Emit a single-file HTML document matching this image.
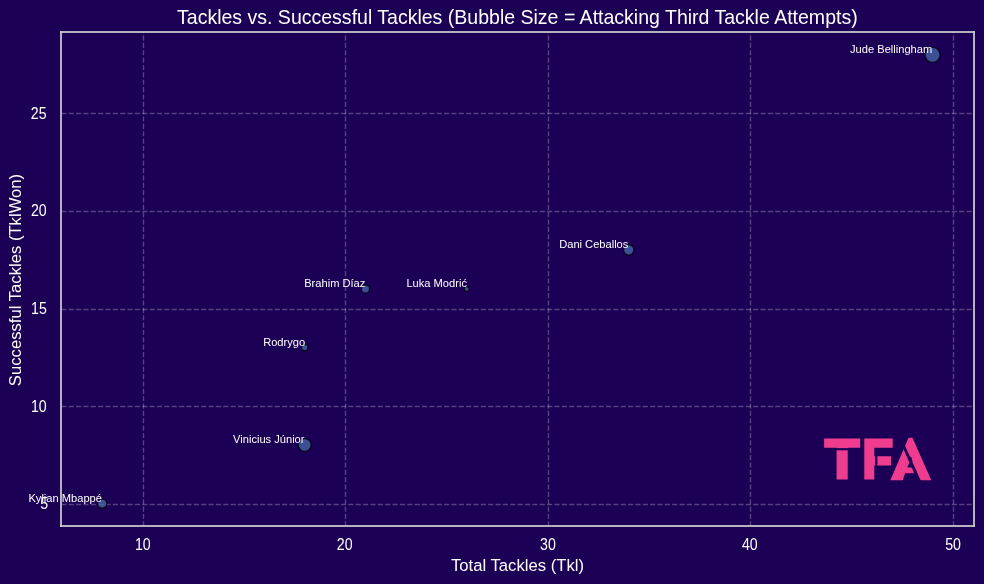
<!DOCTYPE html>
<html><head><meta charset="utf-8"><title>Tackles vs. Successful Tackles</title>
<style>html,body{margin:0;padding:0;background:#1b0055;width:984px;height:584px;overflow:hidden}svg{display:block;will-change:transform}</style>
</head><body>
<svg width="984" height="584" viewBox="0 0 984 584"><rect x="0" y="0" width="984" height="584" fill="#1b0055"/>
<g stroke="rgba(255,255,255,0.26)" stroke-width="1.39" stroke-dasharray="5.14 2.22" fill="none"><line x1="143.5" y1="526.4" x2="143.5" y2="32.0"/><line x1="345.5" y1="526.4" x2="345.5" y2="32.0"/><line x1="548.5" y1="526.4" x2="548.5" y2="32.0"/><line x1="750.5" y1="526.4" x2="750.5" y2="32.0"/><line x1="953.5" y1="526.4" x2="953.5" y2="32.0"/><line x1="61.3" y1="113.5" x2="974.0" y2="113.5"/><line x1="61.3" y1="211.5" x2="974.0" y2="211.5"/><line x1="61.3" y1="309.5" x2="974.0" y2="309.5"/><line x1="61.3" y1="406.5" x2="974.0" y2="406.5"/><line x1="61.3" y1="504.5" x2="974.0" y2="504.5"/></g>
<g fill="#4c72b0" fill-opacity="0.7" stroke="#000" stroke-opacity="0.7" stroke-width="1.39"><circle cx="932.50" cy="54.87" r="7.55"/><circle cx="628.75" cy="249.97" r="5.15"/><circle cx="365.50" cy="288.99" r="4.05"/><circle cx="466.75" cy="288.99" r="2.41"/><circle cx="304.75" cy="347.52" r="3.21"/><circle cx="304.75" cy="445.07" r="6.40"/><circle cx="102.25" cy="503.60" r="4.55"/></g>
<g fill="#cccccc"><rect x="60.13" y="31.13" width="1.74" height="495.74"/><rect x="973.13" y="31.13" width="1.74" height="495.74"/><rect x="60.13" y="31.13" width="914.74" height="1.74"/><rect x="60.13" y="525.13" width="914.74" height="1.74"/></g>
<g font-family="'Liberation Sans', sans-serif" font-size="15.75" fill="#ffffff"><text transform="translate(142.86,549.60) scale(0.9,1)" text-anchor="middle">10</text><text transform="translate(344.69,549.60) scale(0.9,1)" text-anchor="middle">20</text><text transform="translate(547.90,549.94) scale(0.9,1)" text-anchor="middle">30</text><text transform="translate(749.80,549.93) scale(0.9,1)" text-anchor="middle">40</text><text transform="translate(953.05,549.95) scale(0.9,1)" text-anchor="middle">50</text><text transform="translate(38.72,118.60) scale(0.9,1)" text-anchor="middle">25</text><text transform="translate(38.80,216.00) scale(0.9,1)" text-anchor="middle">20</text><text transform="translate(38.91,313.80) scale(0.9,1)" text-anchor="middle">15</text><text transform="translate(38.86,411.60) scale(0.9,1)" text-anchor="middle">10</text><text transform="translate(44.22,509.23) scale(0.9,1)" text-anchor="middle">5</text></g>
<text x="517.5" y="571.0" text-anchor="middle" font-family="'Liberation Sans', sans-serif" font-size="16.67" fill="#ffffff">Total Tackles (Tkl)</text>
<text transform="translate(21,280) rotate(-90)" x="0" y="0" text-anchor="middle" font-family="'Liberation Sans', sans-serif" font-size="16.67" fill="#ffffff">Successful Tackles (TklWon)</text>
<text x="517.35" y="23.9" text-anchor="middle" font-family="'Liberation Sans', sans-serif" font-size="19.52" fill="#ffffff">Tackles vs. Successful Tackles (Bubble Size = Attacking Third Tackle Attempts)</text>
<g font-family="'Liberation Sans', sans-serif" font-size="11.11" fill="#ffffff"><text x="932.19" y="53" text-anchor="end">Jude Bellingham</text><text x="628.36" y="248" text-anchor="end">Dani Ceballos</text><text x="365.33" y="287" text-anchor="end">Brahim Díaz</text><text x="466.96" y="287" text-anchor="end">Luka Modrić</text><text x="305.13" y="346" text-anchor="end">Rodrygo</text><text x="304.50" y="443" text-anchor="end">Vinicius Júnior</text><text x="101.93" y="502" text-anchor="end">Kylian Mbappé</text></g>
<g fill="#ee3d8f" stroke="#ee3d8f" stroke-linejoin="miter" stroke-miterlimit="4" font-family="'Liberation Sans', sans-serif" font-weight="bold">
<text><tspan x="824.98" y="478.4" font-size="56.2" stroke-width="3">T</tspan><tspan x="862.36" y="478.4" font-size="56.2" stroke-width="3" textLength="30.93" lengthAdjust="spacingAndGlyphs">F</tspan><tspan x="891.56" y="477.65" font-family="'DejaVu Sans', sans-serif" font-size="50.9" stroke-width="4.5" textLength="38.60" lengthAdjust="spacingAndGlyphs">A</tspan></text>
</g>
<g fill="#1b0055">
<rect x="834" y="448.1" width="16" height="2.2"/>
<rect x="875.2" y="451" width="2.2" height="18"/>
<polygon points="901.2,444 904.2,444 921.0,481 917.7,481"/>
<polygon points="907.2,467.6 912.2,467.6 909.9,461.6"/>
<polygon points="894,436 909.3,436 889.6,482 887,482 887,470 891,470 891,452 894,452"/>
<polygon points="911.7,436 940,436 940,482 932.1,482"/>
</g></svg>
</body></html>
